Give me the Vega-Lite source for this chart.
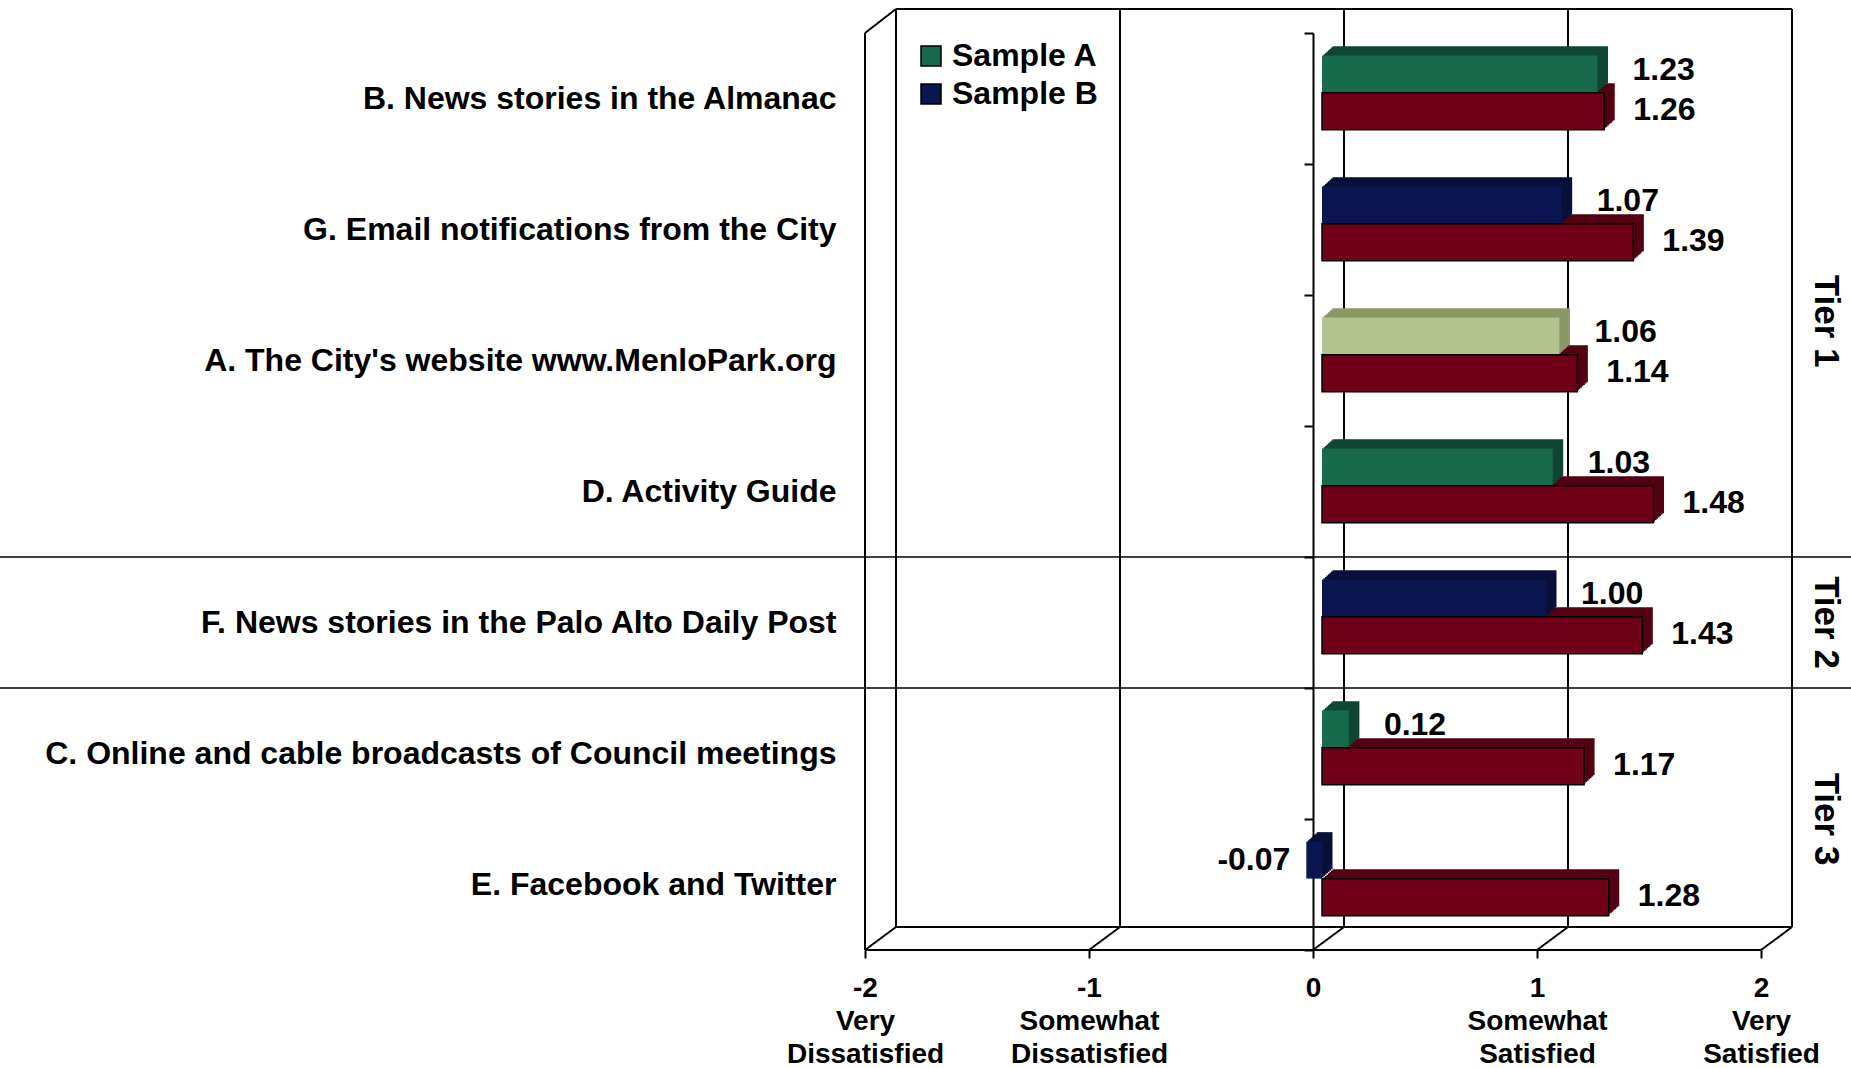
{
  "$schema": "https://vega.github.io/schema/vega-lite/v6.json",
  "width": 1851,
  "height": 1068,
  "autosize": "none",
  "padding": 0,
  "background": "white",
  "config": {
    "view": {"stroke": null},
    "font": "Liberation Sans",
    "locale": {"number": {"decimal": ".", "thousands": ",", "grouping": [3], "currency": ["$", ""], "minus": "-"}}
  },
  "datasets": {
    "bars": [
      {"item": "B. News stories in the Almanac", "sample": "Sample A", "value": 1.23},
      {"item": "B. News stories in the Almanac", "sample": "All respondents", "value": 1.26},
      {"item": "G. Email notifications from the City", "sample": "Sample B", "value": 1.07},
      {"item": "G. Email notifications from the City", "sample": "All respondents", "value": 1.39},
      {"item": "A. The City's website www.MenloPark.org", "sample": "Samples A & B", "value": 1.06},
      {"item": "A. The City's website www.MenloPark.org", "sample": "All respondents", "value": 1.14},
      {"item": "D. Activity Guide", "sample": "Sample A", "value": 1.03},
      {"item": "D. Activity Guide", "sample": "All respondents", "value": 1.48},
      {"item": "F. News stories in the Palo Alto Daily Post", "sample": "Sample B", "value": 1.00},
      {"item": "F. News stories in the Palo Alto Daily Post", "sample": "All respondents", "value": 1.43},
      {"item": "C. Online and cable broadcasts of Council meetings", "sample": "Sample A", "value": 0.12},
      {"item": "C. Online and cable broadcasts of Council meetings", "sample": "All respondents", "value": 1.17},
      {"item": "E. Facebook and Twitter", "sample": "Sample B", "value": -0.07},
      {"item": "E. Facebook and Twitter", "sample": "All respondents", "value": 1.28}
    ],
    "ticks": [{"tick": -2}, {"tick": -1}, {"tick": 0}, {"tick": 1}, {"tick": 2}],
    "one": [{}]
  },
  "data": {"name": "bars"},
  "layer": [
    {
      "data": {"name": "ticks"},
      "mark": {"type": "rule", "color": "black", "strokeWidth": 2, "xOffset": 31, "yOffset": -24, "y2Offset": -23},
      "encoding": {
        "x": {"field": "tick", "type": "quantitative", "scale": {"domain": [-2, 2], "range": [865, 1761], "nice": false, "zero": false}},
        "y": {"datum": "B. News stories in the Almanac", "type": "nominal", "bandPosition": 0,
              "scale": {"domain": ["B. News stories in the Almanac", "G. Email notifications from the City", "A. The City's website www.MenloPark.org", "D. Activity Guide", "F. News stories in the Palo Alto Daily Post", "C. Online and cable broadcasts of Council meetings", "E. Facebook and Twitter"], "range": [33, 950], "paddingInner": 0, "paddingOuter": 0}},
        "y2": {"datum": "E. Facebook and Twitter", "bandPosition": 1}
      }
    },
    {
      "data": {"name": "one"},
      "mark": {"type": "rule", "color": "black", "strokeWidth": 2, "xOffset": 31, "x2Offset": 31, "yOffset": -24},
      "encoding": {
        "x": {"datum": -2, "type": "quantitative"},
        "x2": {"datum": 2},
        "y": {"datum": "B. News stories in the Almanac", "type": "nominal", "bandPosition": 0}
      }
    },
    {
      "data": {"name": "one"},
      "mark": {"type": "rule", "color": "black", "strokeWidth": 2, "xOffset": 31, "x2Offset": 31, "yOffset": -23},
      "encoding": {
        "x": {"datum": -2, "type": "quantitative"},
        "x2": {"datum": 2},
        "y": {"datum": "E. Facebook and Twitter", "type": "nominal", "bandPosition": 1}
      }
    },
    {
      "data": {"name": "ticks"},
      "mark": {"type": "rule", "color": "black", "strokeWidth": 2, "x2Offset": 31, "y2Offset": -23},
      "encoding": {
        "x": {"field": "tick", "type": "quantitative"},
        "x2": {"field": "tick"},
        "y": {"datum": "E. Facebook and Twitter", "type": "nominal", "bandPosition": 1},
        "y2": {"datum": "E. Facebook and Twitter", "bandPosition": 1}
      }
    },
    {
      "data": {"name": "one"},
      "mark": {"type": "rule", "color": "black", "strokeWidth": 2, "x2Offset": 31, "y2Offset": -24},
      "encoding": {
        "x": {"datum": -2, "type": "quantitative"},
        "x2": {"datum": -2},
        "y": {"datum": "B. News stories in the Almanac", "type": "nominal", "bandPosition": 0},
        "y2": {"datum": "B. News stories in the Almanac", "bandPosition": 0}
      }
    },
    {
      "data": {"name": "one"},
      "mark": {"type": "rule", "color": "black", "strokeWidth": 2},
      "encoding": {
        "x": {"datum": -2, "type": "quantitative"},
        "y": {"datum": "B. News stories in the Almanac", "type": "nominal", "bandPosition": 0},
        "y2": {"datum": "E. Facebook and Twitter", "bandPosition": 1}
      }
    },
    {
      "data": {"name": "one"},
      "mark": {"type": "rule", "color": "black", "strokeWidth": 2},
      "encoding": {
        "x": {"datum": -2, "type": "quantitative"},
        "x2": {"datum": 2},
        "y": {"datum": "E. Facebook and Twitter", "type": "nominal", "bandPosition": 1}
      }
    },
    {
      "data": {"values": [{"item": "F. News stories in the Palo Alto Daily Post"}, {"item": "C. Online and cable broadcasts of Council meetings"}]},
      "mark": {"type": "rule", "color": "black", "strokeWidth": 1.5},
      "encoding": {"y": {"field": "item", "type": "nominal", "bandPosition": 0}}
    },

    {"transform": [{"filter": "datum.sample == 'All respondents'"}], "mark": {"type": "bar", "height": 37, "color": "#520012", "xOffset": 10.5, "x2Offset": 10.5, "yOffset": 11.35, "y2Offset": 11.35}, "encoding": {"x": {"field": "value", "type": "quantitative"}, "y": {"field": "item", "type": "nominal"}}},
    {"transform": [{"filter": "datum.sample == 'All respondents'"}], "mark": {"type": "bar", "height": 37, "color": "#520012", "xOffset": 12, "x2Offset": 12, "yOffset": 10, "y2Offset": 10}, "encoding": {"x": {"field": "value", "type": "quantitative"}, "y": {"field": "item", "type": "nominal"}}},
    {"transform": [{"filter": "datum.sample == 'All respondents'"}], "mark": {"type": "bar", "height": 37, "color": "#520012", "xOffset": 13.5, "x2Offset": 13.5, "yOffset": 8.65, "y2Offset": 8.65}, "encoding": {"x": {"field": "value", "type": "quantitative"}, "y": {"field": "item", "type": "nominal"}}},
    {"transform": [{"filter": "datum.sample == 'All respondents'"}], "mark": {"type": "bar", "height": 37, "color": "#520012", "xOffset": 15, "x2Offset": 15, "yOffset": 7.3, "y2Offset": 7.3}, "encoding": {"x": {"field": "value", "type": "quantitative"}, "y": {"field": "item", "type": "nominal"}}},
    {"transform": [{"filter": "datum.sample == 'All respondents'"}], "mark": {"type": "bar", "height": 37, "color": "#520012", "xOffset": 16.5, "x2Offset": 16.5, "yOffset": 5.95, "y2Offset": 5.95}, "encoding": {"x": {"field": "value", "type": "quantitative"}, "y": {"field": "item", "type": "nominal"}}},
    {"transform": [{"filter": "datum.sample == 'All respondents'"}], "mark": {"type": "bar", "height": 37, "color": "#520012", "xOffset": 18, "x2Offset": 18, "yOffset": 4.6, "y2Offset": 4.6}, "encoding": {"x": {"field": "value", "type": "quantitative"}, "y": {"field": "item", "type": "nominal"}}},
    {"transform": [{"filter": "datum.sample == 'All respondents'"}], "mark": {"type": "bar", "height": 37, "color": "#520012", "xOffset": 19.5, "x2Offset": 19.5, "yOffset": 3.25, "y2Offset": 3.25}, "encoding": {"x": {"field": "value", "type": "quantitative"}, "y": {"field": "item", "type": "nominal"}}},

    {"transform": [{"filter": "datum.sample != 'All respondents'"}], "mark": {"type": "bar", "height": 37, "xOffset": 10.5, "x2Offset": 10.5, "yOffset": -25.75, "y2Offset": -25.75}, "encoding": {"x": {"field": "value", "type": "quantitative"}, "y": {"field": "item", "type": "nominal"}, "fill": {"field": "sample", "type": "nominal", "legend": null, "scale": {"domain": ["Samples A & B", "Sample B", "Sample A"], "range": ["#8A9766", "#080F3A", "#0F4533"]}}}},
    {"transform": [{"filter": "datum.sample != 'All respondents'"}], "mark": {"type": "bar", "height": 37, "xOffset": 12, "x2Offset": 12, "yOffset": -27.1, "y2Offset": -27.1}, "encoding": {"x": {"field": "value", "type": "quantitative"}, "y": {"field": "item", "type": "nominal"}, "fill": {"field": "sample", "type": "nominal", "legend": null}}},
    {"transform": [{"filter": "datum.sample != 'All respondents'"}], "mark": {"type": "bar", "height": 37, "xOffset": 13.5, "x2Offset": 13.5, "yOffset": -28.45, "y2Offset": -28.45}, "encoding": {"x": {"field": "value", "type": "quantitative"}, "y": {"field": "item", "type": "nominal"}, "fill": {"field": "sample", "type": "nominal", "legend": null}}},
    {"transform": [{"filter": "datum.sample != 'All respondents'"}], "mark": {"type": "bar", "height": 37, "xOffset": 15, "x2Offset": 15, "yOffset": -29.8, "y2Offset": -29.8}, "encoding": {"x": {"field": "value", "type": "quantitative"}, "y": {"field": "item", "type": "nominal"}, "fill": {"field": "sample", "type": "nominal", "legend": null}}},
    {"transform": [{"filter": "datum.sample != 'All respondents'"}], "mark": {"type": "bar", "height": 37, "xOffset": 16.5, "x2Offset": 16.5, "yOffset": -31.15, "y2Offset": -31.15}, "encoding": {"x": {"field": "value", "type": "quantitative"}, "y": {"field": "item", "type": "nominal"}, "fill": {"field": "sample", "type": "nominal", "legend": null}}},
    {"transform": [{"filter": "datum.sample != 'All respondents'"}], "mark": {"type": "bar", "height": 37, "xOffset": 18, "x2Offset": 18, "yOffset": -32.5, "y2Offset": -32.5}, "encoding": {"x": {"field": "value", "type": "quantitative"}, "y": {"field": "item", "type": "nominal"}, "fill": {"field": "sample", "type": "nominal", "legend": null}}},
    {"transform": [{"filter": "datum.sample != 'All respondents'"}], "mark": {"type": "bar", "height": 37, "xOffset": 19.5, "x2Offset": 19.5, "yOffset": -33.85, "y2Offset": -33.85}, "encoding": {"x": {"field": "value", "type": "quantitative"}, "y": {"field": "item", "type": "nominal"}, "fill": {"field": "sample", "type": "nominal", "legend": null}}},

    {
      "transform": [{"filter": "datum.sample != 'All respondents'"}],
      "mark": {"type": "bar", "height": 37, "xOffset": 9, "x2Offset": 9, "yOffset": -24.4, "y2Offset": -24.4},
      "encoding": {
        "x": {"field": "value", "type": "quantitative"},
        "y": {"field": "item", "type": "nominal"},
        "color": {"field": "sample", "type": "nominal",
          "scale": {"domain": ["Sample A", "Sample B", "Samples A & B"], "range": ["#176A4B", "#0B1650", "#B4C28D"]},
          "legend": {"orient": "none", "legendX": 915, "legendY": 40, "values": ["Sample A", "Sample B"], "title": null, "padding": 0,
            "symbolType": "square", "symbolSize": 400, "symbolStrokeColor": "black", "symbolStrokeWidth": 1.5,
            "labelFont": "Liberation Sans", "labelFontWeight": "bold", "labelFontSize": 32, "labelColor": "black", "labelOffset": 5, "rowPadding": 6}}
      }
    },
    {
      "transform": [{"filter": "datum.sample == 'All respondents'"}],
      "mark": {"type": "bar", "height": 37, "color": "#700017", "stroke": "black", "strokeWidth": 1.5, "xOffset": 9, "x2Offset": 9, "yOffset": 12.7, "y2Offset": 12.7},
      "encoding": {
        "x": {"field": "value", "type": "quantitative",
          "axis": {"orient": "bottom", "offset": -118, "values": [-2, -1, 0, 1, 2], "domain": false, "grid": false, "ticks": true, "tickSize": 8, "tickWidth": 2, "tickColor": "black",
            "labelExpr": "datum.value == -2 ? ['-2', 'Very', 'Dissatisfied'] : datum.value == -1 ? ['-1', 'Somewhat', 'Dissatisfied'] : datum.value == 1 ? ['1', 'Somewhat', 'Satisfied'] : datum.value == 2 ? ['2', 'Very', 'Satisfied'] : '0'",
            "labelFont": "Liberation Sans", "labelFontWeight": "bold", "labelFontSize": 28, "labelColor": "black", "labelLineHeight": 33, "labelPadding": 16,
            "labelBound": false, "labelFlush": false, "labelOverlap": false, "title": null, "zindex": 0}},
        "y": {"field": "item", "type": "nominal",
          "axis": {"orient": "left", "offset": -1313, "domain": true, "domainColor": "black", "domainWidth": 2, "ticks": true, "tickSize": 9, "tickWidth": 2, "tickColor": "black",
            "bandPosition": 1, "tickExtra": true, "labelPadding": 468, "labelLimit": 0, "labelFont": "Liberation Sans", "labelFontWeight": "bold", "labelFontSize": 32,
            "labelColor": "black", "labelAlign": "right", "labelBaseline": "middle", "title": null, "grid": false, "zindex": 0}}
      }
    },

    {
      "transform": [{"filter": "datum.sample != 'All respondents' && datum.value >= 0"}],
      "mark": {"type": "text", "align": "left", "baseline": "middle", "dx": 44, "yOffset": -29, "font": "Liberation Sans", "fontWeight": "bold", "fontSize": 32, "color": "black"},
      "encoding": {"x": {"field": "value", "type": "quantitative"}, "y": {"field": "item", "type": "nominal"}, "text": {"field": "value", "format": ".2f"}}
    },
    {
      "transform": [{"filter": "datum.sample != 'All respondents' && datum.value < 0"}],
      "mark": {"type": "text", "align": "right", "baseline": "middle", "dx": -7, "yOffset": -24.5, "font": "Liberation Sans", "fontWeight": "bold", "fontSize": 32, "color": "black"},
      "encoding": {"x": {"field": "value", "type": "quantitative"}, "y": {"field": "item", "type": "nominal"}, "text": {"field": "value", "format": ".2f"}}
    },
    {
      "transform": [{"filter": "datum.sample == 'All respondents'"}],
      "mark": {"type": "text", "align": "left", "baseline": "middle", "dx": 38, "yOffset": 11, "font": "Liberation Sans", "fontWeight": "bold", "fontSize": 32, "color": "black"},
      "encoding": {"x": {"field": "value", "type": "quantitative"}, "y": {"field": "item", "type": "nominal"}, "text": {"field": "value", "format": ".2f"}}
    },

    {
      "data": {"name": "one"},
      "mark": {"type": "text", "angle": 90, "align": "center", "baseline": "middle", "xOffset": 65, "font": "Liberation Sans", "fontWeight": "bold", "fontSize": 35, "color": "black"},
      "encoding": {"x": {"datum": 2, "type": "quantitative"}, "y": {"datum": "A. The City's website www.MenloPark.org", "type": "nominal", "bandPosition": 0.2}, "text": {"value": "Tier 1"}}
    },
    {
      "data": {"name": "one"},
      "mark": {"type": "text", "angle": 90, "align": "center", "baseline": "middle", "xOffset": 65, "font": "Liberation Sans", "fontWeight": "bold", "fontSize": 35, "color": "black"},
      "encoding": {"x": {"datum": 2, "type": "quantitative"}, "y": {"datum": "F. News stories in the Palo Alto Daily Post", "type": "nominal", "bandPosition": 0.5}, "text": {"value": "Tier 2"}}
    },
    {
      "data": {"name": "one"},
      "mark": {"type": "text", "angle": 90, "align": "center", "baseline": "middle", "xOffset": 65, "font": "Liberation Sans", "fontWeight": "bold", "fontSize": 35, "color": "black"},
      "encoding": {"x": {"datum": 2, "type": "quantitative"}, "y": {"datum": "E. Facebook and Twitter", "type": "nominal", "bandPosition": 0}, "text": {"value": "Tier 3"}}
    }
  ]
}
